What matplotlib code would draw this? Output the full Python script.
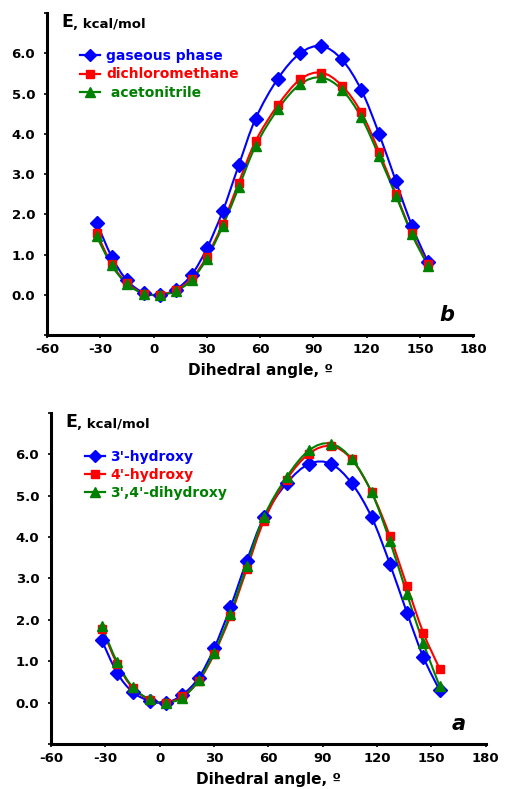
import matplotlib
matplotlib.use("Agg")
import matplotlib.pyplot as plt
from matplotlib.path import Path
from matplotlib.patches import PathPatch
from matplotlib.lines import Line2D
import numpy as np

plt.rcParams['font.family'] = ['DejaVu Sans']
plt.rcParams['font.weight'] = 'bold'
plt.rcParams['axes.unicode_minus'] = False

# dihedral angles (deg)
angles = [-32, -23.5, -15, -5.5, 3.5, 12.5, 21.5, 30, 39, 48, 57.5,
          70, 82.5, 94.5, 106, 117, 127, 136.5, 145.5, 154.5]

# panel b: solvent effect
labels_b = ["gaseous phase", "dichloromethane", " acetonitrile"]
gaseous = [1.79, 0.94, 0.36, 0.05, 0.0, 0.13, 0.50, 1.15, 2.08, 3.22, 4.38,
           5.37, 6.00, 6.18, 5.85, 5.09, 4.00, 2.82, 1.71, 0.81]
dichloromethane = [1.53, 0.76, 0.30, 0.03, 0.0, 0.12, 0.40, 0.95, 1.77, 2.79, 3.82,
                   4.71, 5.35, 5.52, 5.20, 4.53, 3.55, 2.50, 1.53, 0.76]
acetonitrile = [1.45, 0.73, 0.27, 0.03, 0.0, 0.09, 0.37, 0.90, 1.71, 2.67, 3.70,
                4.61, 5.23, 5.40, 5.10, 4.41, 3.45, 2.46, 1.50, 0.72]

# panel a: substituent effect
labels_a = ["3'-hydroxy", "4'-hydroxy", "3',4'-dihydroxy"]
hydroxy3 = [1.51, 0.72, 0.26, 0.04, 0.0, 0.19, 0.60, 1.31, 2.30, 3.42, 4.48,
            5.30, 5.77, 5.77, 5.30, 4.48, 3.36, 2.17, 1.10, 0.30]
hydroxy4 = [1.79, 0.94, 0.36, 0.07, 0.0, 0.15, 0.52, 1.17, 2.09, 3.22, 4.39,
            5.39, 6.02, 6.20, 5.88, 5.08, 4.03, 2.82, 1.69, 0.82]
dihydroxy = [1.85, 0.98, 0.38, 0.08, 0.0, 0.12, 0.54, 1.20, 2.15, 3.30, 4.49,
             5.45, 6.10, 6.26, 5.89, 5.08, 3.91, 2.62, 1.44, 0.40]

colors = ["#0000ff", "#ff0000", "#008000"]
markers = ["D", "s", "^"]
msizes = [7, 6, 7]


def smooth_path(x, y, t=1 / 6):
    # Excel-like smoothed line: cubic bezier through the points
    x = np.asarray(x, float)
    y = np.asarray(y, float)
    n = len(x)
    verts = [(x[0], y[0])]
    codes = [Path.MOVETO]
    for i in range(n - 1):
        p0 = np.array([x[max(i - 1, 0)], y[max(i - 1, 0)]])
        p1 = np.array([x[i], y[i]])
        p2 = np.array([x[i + 1], y[i + 1]])
        p3 = np.array([x[min(i + 2, n - 1)], y[min(i + 2, n - 1)]])
        c1 = p1 + (p2 - p0) * t
        c2 = p2 - (p3 - p1) * t
        verts += [tuple(c1), tuple(c2), tuple(p2)]
        codes += [Path.CURVE4] * 3
    return Path(verts, codes)


def draw_panel(ax, series, labels, letter, leg_y):
    for ys, lab, c, m, ms in zip(series, labels, colors, markers, msizes):
        ax.add_patch(PathPatch(smooth_path(angles, ys), fill=False, edgecolor=c,
                               lw=1.5, zorder=2))
        ax.plot(angles, ys, linestyle="none", marker=m, color=c, ms=ms,
                mec=c, zorder=3)
    ax.set_xlim(-60, 180)
    ax.set_ylim(-1, 7)
    ax.set_xticks(range(-60, 181, 30))
    ax.set_yticks(range(-1, 8))
    ax.set_yticklabels(["" if v in (-1, 7) else f"{v:.1f}" for v in range(-1, 8)])
    ax.tick_params(labelsize=9.5, width=1.2, length=2.5, direction="out")
    ax.tick_params(axis="y", pad=6)
    for lbl in ax.get_xticklabels() + ax.get_yticklabels():
        lbl.set_fontweight("bold")
    for s in ["top", "right"]:
        ax.spines[s].set_visible(False)
    for s in ["left", "bottom"]:
        ax.spines[s].set_linewidth(2.2)
    ax.set_xlabel("Dihedral angle, º", fontsize=11, fontweight="bold", labelpad=5)
    etext = ax.text(0.033, 1.0, "E", transform=ax.transAxes, fontsize=12.5,
                    fontweight="bold", va="top", ha="left")
    ax.annotate(", kcal/mol", xy=(1, 0), xycoords=etext, fontsize=9.5,
                fontweight="bold", va="bottom", ha="left")
    ax.text(0.955, 0.03, letter, transform=ax.transAxes, fontsize=15,
            fontweight="bold", style="italic", ha="right", va="bottom")
    handles = [Line2D([], [], color=c, marker=m, ms=ms - 0.5, lw=1.6)
               for c, m, ms in zip(colors, markers, msizes)]
    leg = ax.legend(handles, labels, loc="upper left", bbox_to_anchor=(0.065, leg_y),
                    frameon=False, fontsize=10, handlelength=1.45,
                    handletextpad=0.4, labelspacing=0.3, borderaxespad=0)
    for txt, c in zip(leg.get_texts(), colors):
        txt.set_color(c)
        txt.set_fontweight("bold")


fig = plt.figure(figsize=(5.05, 7.89), dpi=100)
ax_b = fig.add_axes([0.093, 0.5754, 0.844, 0.408])
ax_a = fig.add_axes([0.101, 0.057, 0.861, 0.4196])

draw_panel(ax_b, [gaseous, dichloromethane, acetonitrile], labels_b, "b", 0.905)
draw_panel(ax_a, [hydroxy3, hydroxy4, dihydroxy], labels_a, "a", 0.905)

fig.savefig("out.png", dpi=100)
